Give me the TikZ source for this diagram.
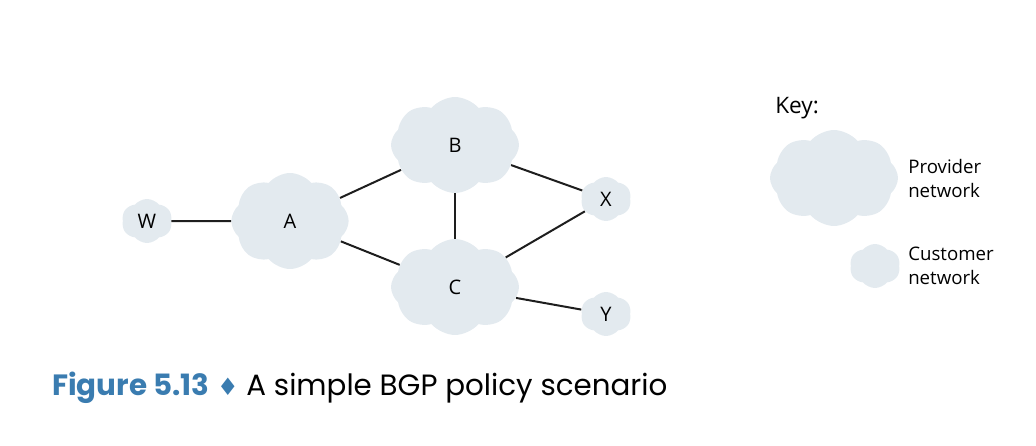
\documentclass[tikz,border=0pt]{standalone}
\usepackage{fontspec}
\setmainfont{Open Sans}
\newfontfamily\capfont{Poppins}
\newfontfamily\djv{DejaVu Sans}
\usetikzlibrary{shapes.symbols}
\definecolor{cloudfill}{RGB}{227,234,239}
\definecolor{capblue}{RGB}{58,124,176}
\definecolor{linkcol}{RGB}{30,30,30}
\tikzset{
  net/.style={cloud, cloud puffs=8, cloud puff arc=100, fill=cloudfill, draw=none, inner sep=0pt, font=\fontsize{15}{15}\selectfont},
  provider/.style={net, minimum width=96pt, minimum height=72pt},
  customer/.style={net, cloud puffs=6, minimum width=38pt, minimum height=33pt},
  link/.style={draw=linkcol, line width=1.5pt},
  keytext/.style={anchor=base west, align=left, font=\fontsize{14}{18}\selectfont, inner sep=0pt},
}
\begin{document}
\begin{tikzpicture}[x=0.75pt,y=-0.75pt]
\useasboundingbox (0,0) rectangle (1036,446);
\node[provider, minimum width=88pt, minimum height=72pt] (A) at (290,221) {A};
\node[provider] (B) at (455,145) {B};
\node[provider] (C) at (455,287) {C};
\node[customer] (W) at (147,221) {W};
\node[customer] (X) at (606,199) {X};
\node[customer] (Y) at (606,314) {Y};
\draw[link] (W) -- (A);
\draw[link] (A) -- (B);
\draw[link] (A) -- (C);
\draw[link] (B) -- (C);
\draw[link] (B) -- (X);
\draw[link] (C) -- (X);
\draw[link] (C) -- (Y);
% key
\node[anchor=base west, inner sep=0pt, font=\fontsize{17}{17}\selectfont] (key) at (775,113) {Key:};
\node[provider] (kp) at (834,178) {};
\node[customer] (kc) at (875,266) {};
\node[keytext] (kpt) at (908,197) {Provider\\network};
\node[keytext] (kct) at (908,284) {Customer\\network};
% caption
\node[anchor=base west, inner sep=0pt, font=\fontsize{22}{22}\selectfont] (cap) at (52,395)
  {\textcolor{capblue}{\capfont\bfseries Figure 5.13} {\djv\fontsize{18}{18}\selectfont\textcolor{capblue}{♦}} {\capfont A simple BGP policy scenario}};
\end{tikzpicture}
\end{document}
